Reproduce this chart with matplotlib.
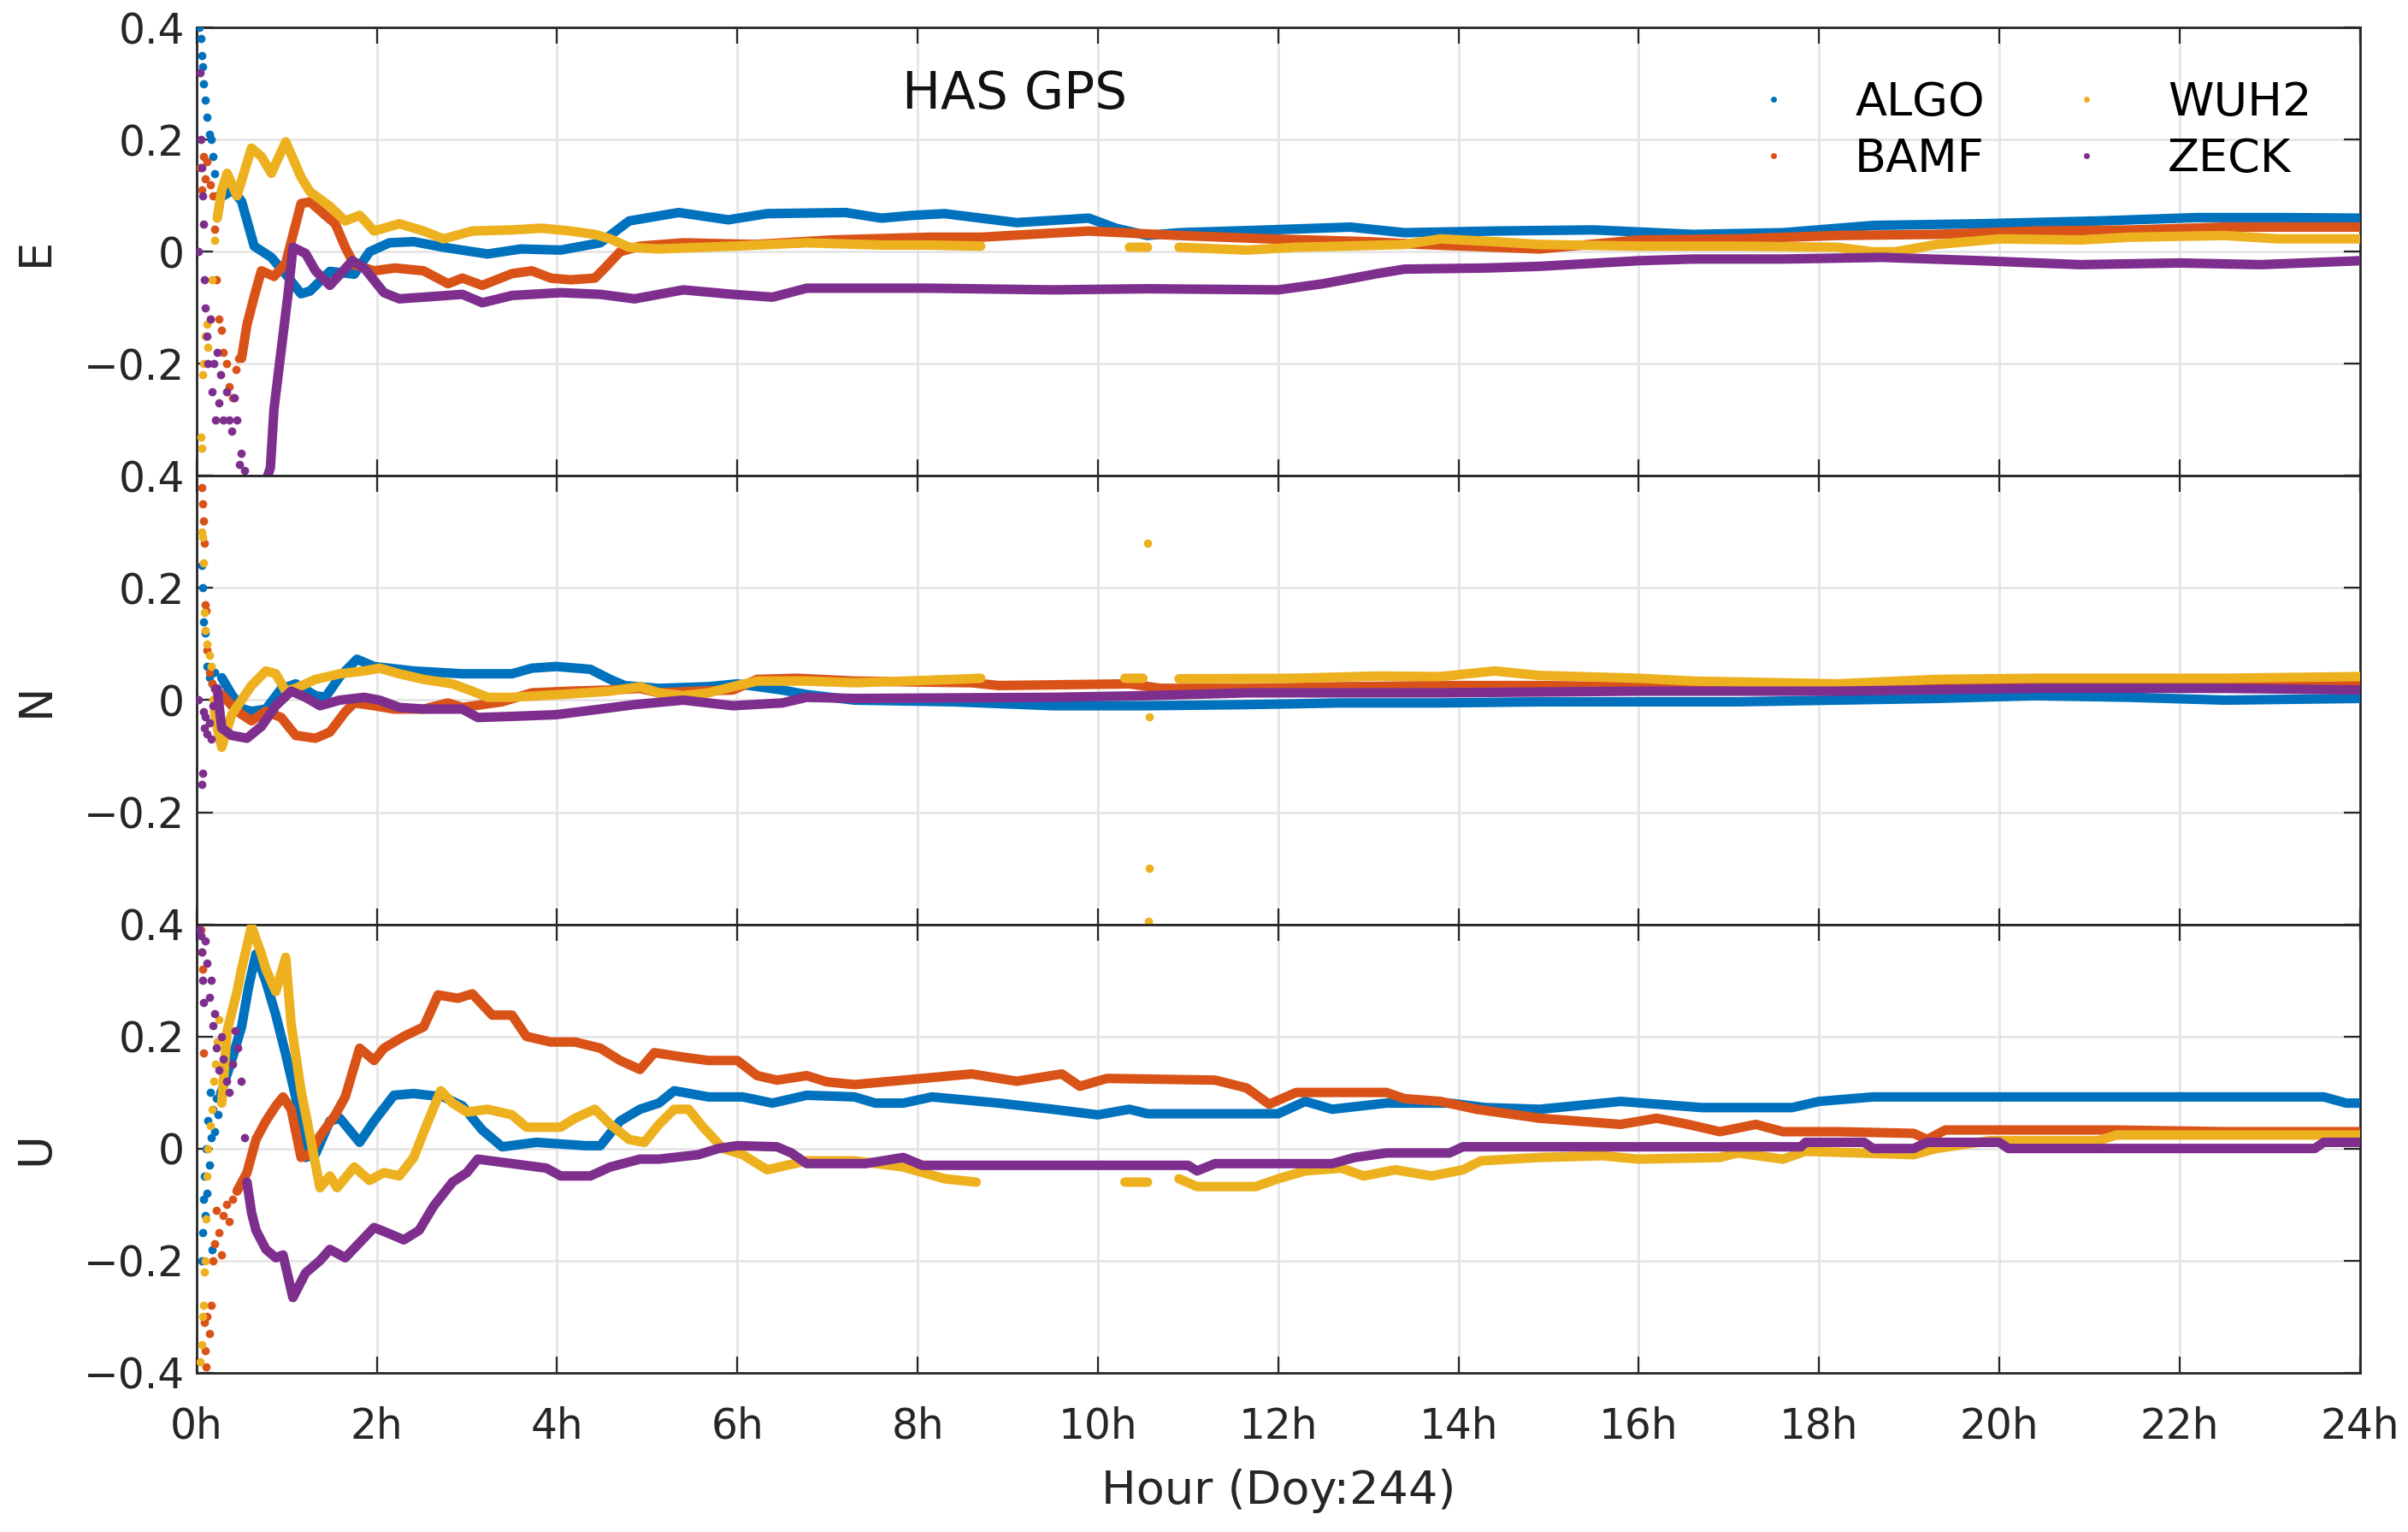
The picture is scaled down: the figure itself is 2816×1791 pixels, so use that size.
import numpy as np
import matplotlib
matplotlib.use('Agg')
import matplotlib.pyplot as plt
from matplotlib.ticker import FixedLocator, FixedFormatter

nan = np.nan

STATIONS = ['ALGO', 'BAMF', 'WUH2', 'ZECK']
COLORS = ['#0072BD', '#D95319', '#EDB120', '#7E2F8E']

# ---------------- East ----------------
E_ALGO_SCAT_T = [0.03, 0.05, 0.06, 0.07, 0.08, 0.10, 0.12, 0.14, 0.16, 0.18, 0.20, 0.22, 0.25]
E_ALGO_SCAT_V = [0.40, 0.38, 0.35, 0.33, 0.30, 0.27, 0.24, 0.21, 0.20, 0.17, 0.14, 0.10, 0.08]
E_ALGO_T = [0.3, 0.4, 0.5, 0.64, 0.83, 0.99, 1.16, 1.26, 1.48, 1.75, 1.92, 2.14, 2.41, 2.74, 3.23,
            3.6, 4.04, 4.48, 4.8, 5.35, 5.9, 6.33, 7.2, 7.6, 7.95, 8.3, 9.1, 9.9, 10.2, 10.55, 10.9,
            11.9, 12.8, 13.4, 14.4, 15.5, 16.6, 17.6, 18.6, 19.8, 21.1, 22.2, 23.1, 24]
E_ALGO_V = [0.10, 0.11, 0.09, 0.01, -0.01, -0.04, -0.075, -0.07, -0.035, -0.04, 0.0, 0.016, 0.018,
            0.008, -0.004, 0.005, 0.003, 0.016, 0.055, 0.07, 0.057, 0.068, 0.07, 0.06, 0.065, 0.068,
            0.052, 0.06, 0.042, 0.029, 0.034, 0.039, 0.044, 0.034, 0.037, 0.039, 0.031, 0.034, 0.047,
            0.05, 0.055, 0.061, 0.061, 0.06]

E_BAMF_SCAT_T = [0.04, 0.06, 0.08, 0.10, 0.12, 0.15, 0.18, 0.20, 0.22, 0.25, 0.28, 0.30, 0.33,
                 0.36, 0.40, 0.44, 0.47]
E_BAMF_SCAT_V = [0.15, 0.11, 0.17, 0.13, 0.16, 0.12, 0.10, 0.04, -0.05, -0.12, -0.14, -0.18, -0.20,
                 -0.24, -0.26, -0.21, -0.19]
E_BAMF_T = [0.5, 0.56, 0.64, 0.72, 0.86, 0.99, 1.16, 1.26, 1.43, 1.54, 1.65, 1.75, 1.97, 2.2, 2.52,
            2.79, 2.95, 3.17, 3.5, 3.72, 3.93, 4.15, 4.42, 4.53, 4.7, 4.92, 5.4, 6.2, 7.04, 8.13, 8.7,
            9.9, 10.9, 11.9, 13.0, 13.6, 14.4, 14.9, 16.0, 17.1, 18.2, 19.3, 20.4, 21.5, 22.5, 24]
E_BAMF_V = [-0.19, -0.13, -0.08, -0.034, -0.044, -0.02, 0.086, 0.089, 0.065, 0.05, 0.008, -0.023,
            -0.034, -0.029, -0.034, -0.057, -0.047, -0.06, -0.039, -0.034, -0.047, -0.05, -0.047,
            -0.029, 0.0, 0.01, 0.016, 0.013, 0.021, 0.026, 0.026, 0.037, 0.029, 0.023, 0.018, 0.013,
            0.008, 0.005, 0.021, 0.023, 0.029, 0.031, 0.037, 0.039, 0.044, 0.044]

E_WUH2_SCAT_T = [0.05, 0.06, 0.07, 0.08, 0.10, 0.12, 0.13, 0.15, 0.17, 0.20]
E_WUH2_SCAT_V = [-0.33, -0.35, -0.22, -0.20, -0.15, -0.13, -0.17, -0.12, -0.05, 0.02]
E_WUH2_T = [0.23, 0.28, 0.34, 0.45, 0.61, 0.72, 0.83, 0.99, 1.16, 1.26, 1.48, 1.65, 1.81, 1.97, 2.25,
            2.52, 2.74, 3.06, 3.5, 3.83, 4.15, 4.42, 4.59, 4.8, 5.13, 5.95, 6.77, 7.59, 8.13, 8.7,
            nan, 10.35, 10.55, nan, 10.9, 11.65, 12.2, 12.7, 13.4, 13.8, 14.4, 14.9, 16.0, 17.1,
            18.2, 18.6, 18.85, 19.3, 20.0, 20.9, 21.45, 22.5, 23.1, 24]
E_WUH2_V = [0.06, 0.11, 0.14, 0.10, 0.185, 0.17, 0.14, 0.196, 0.133, 0.107, 0.081, 0.055, 0.065,
            0.037, 0.05, 0.037, 0.023, 0.037, 0.039, 0.042, 0.037, 0.031, 0.023, 0.008, 0.005, 0.01,
            0.016, 0.012, 0.012, 0.01, nan, 0.008, 0.008, nan, 0.008, 0.003, 0.008, 0.01, 0.013,
            0.023, 0.018, 0.013, 0.01, 0.01, 0.008, 0.0, 0.0, 0.013, 0.023, 0.021, 0.026, 0.029,
            0.023, 0.023]

E_ZECK_SCAT_T = [0.02, 0.04, 0.05, 0.06, 0.07, 0.08, 0.09, 0.10, 0.12, 0.13, 0.15, 0.17, 0.19, 0.21,
                 0.23, 0.25, 0.27, 0.30, 0.33, 0.36, 0.39, 0.42, 0.45, 0.48, 0.50, 0.53]
E_ZECK_SCAT_V = [0.0, 0.32, 0.20, 0.15, 0.10, 0.05, -0.05, -0.10, -0.15, -0.20, -0.12, -0.25, -0.20,
                 -0.30, -0.18, -0.27, -0.22, -0.30, -0.25, -0.30, -0.32, -0.26, -0.30, -0.38, -0.36,
                 -0.39]
E_ZECK_T = [0.77, 0.82, 0.86, 0.94, 1.02, 1.07, 1.21, 1.32, 1.48, 1.73, 1.86, 2.08, 2.25, 2.52, 2.95,
            3.17, 3.5, 4.04, 4.48, 4.86, 5.4, 5.95, 6.39, 6.77, 7.59, 8.13, 9.5, 10.55, 12.0, 12.5,
            13.1, 13.4, 14.3, 14.9, 16.0, 16.6, 17.6, 18.7, 19.8, 20.9, 22.0, 22.9, 24]
E_ZECK_V = [-0.41, -0.385, -0.28, -0.175, -0.07, 0.008, -0.003, -0.034, -0.06, -0.016, -0.029,
            -0.073, -0.084, -0.081, -0.076, -0.091, -0.078, -0.073, -0.076, -0.084, -0.068, -0.076,
            -0.081, -0.065, -0.065, -0.065, -0.068, -0.066, -0.068, -0.057, -0.039, -0.031, -0.029,
            -0.026, -0.016, -0.013, -0.013, -0.01, -0.016, -0.023, -0.02, -0.023, -0.016]

# ---------------- North ----------------
N_ALGO_SCAT_T = [0.06, 0.07, 0.08, 0.10, 0.12, 0.14, 0.17, 0.20]
N_ALGO_SCAT_V = [0.24, 0.20, 0.14, 0.12, 0.06, 0.04, 0.03, 0.05]
N_ALGO_T = [0.28, 0.39, 0.5, 0.61, 0.77, 0.94, 1.1, 1.32, 1.43, 1.59, 1.78, 1.97, 2.41, 2.95, 3.5,
            3.72, 3.99, 4.37, 4.59, 4.75, 5.13, 5.68, 6.0, 6.5, 6.77, 7.3, 8.4, 9.5, 10.55, 11.65,
            12.7, 13.8, 14.9, 16.0, 17.1, 18.2, 19.3, 20.4, 21.45, 22.5, 24]
N_ALGO_V = [0.04, 0.01, -0.015, -0.02, -0.016, 0.02, 0.029, 0.008, 0.005, 0.042, 0.073, 0.06, 0.052,
            0.047, 0.047, 0.057, 0.06, 0.055, 0.037, 0.026, 0.021, 0.024, 0.029, 0.018, 0.01, 0.0,
            -0.003, -0.01, -0.01, -0.008, -0.005, -0.005, -0.003, -0.003, -0.003, 0.0, 0.003, 0.008,
            0.005, 0.0, 0.003]

N_BAMF_SCAT_T = [0.06, 0.07, 0.08, 0.09, 0.10, 0.11, 0.12, 0.14, 0.17, 0.20]
N_BAMF_SCAT_V = [0.38, 0.35, 0.32, 0.28, 0.17, 0.16, 0.09, 0.05, 0.03, 0.02]
N_BAMF_T = [0.28, 0.45, 0.61, 0.77, 0.94, 1.1, 1.32, 1.48, 1.65, 1.75, 1.97, 2.19, 2.52, 2.79, 2.95,
            3.39, 3.72, 4.15, 4.59, 4.92, 5.13, 5.57, 5.95, 6.22, 6.66, 7.3, 8.6, 8.9, 10.35, 10.7,
            11.65, 12.7, 13.8, 14.9, 16.0, 18.2, 19.3, 20.4, 21.45, 22.5, 24]
N_BAMF_V = [0.01, -0.02, -0.037, -0.02, -0.031, -0.063, -0.068, -0.057, -0.021, -0.005, -0.01,
            -0.016, -0.016, -0.005, -0.013, -0.003, 0.013, 0.016, 0.018, 0.021, 0.013, 0.016, 0.018,
            0.037, 0.039, 0.034, 0.031, 0.026, 0.029, 0.021, 0.021, 0.024, 0.026, 0.026, 0.024,
            0.018, 0.021, 0.026, 0.029, 0.029, 0.029]

N_WUH2_SCAT_T = [0.06, 0.07, 0.08, 0.09, 0.10, 0.12, 0.14, 0.16, 0.18, 10.55, 10.57, 10.57, 10.56]
N_WUH2_SCAT_V = [0.30, 0.29, 0.245, 0.157, 0.125, 0.10, 0.08, 0.06, 0.0, 0.28, -0.03, -0.30, -0.395]
N_WUH2_T = [0.2, 0.23, 0.28, 0.39, 0.5, 0.61, 0.77, 0.88, 0.99, 1.1, 1.32, 1.59, 1.86, 2.03, 2.25,
            2.52, 2.84, 3.06, 3.23, 3.5, 4.04, 4.59, 4.92, 5.13, 5.4, 5.68, 6.0, 6.22, 6.77, 7.3,
            8.4, 8.7, nan, 10.3, 10.5, nan, 10.9, 12.2, 13.1, 13.8, 14.4, 14.9, 16.0, 16.6, 18.2,
            19.3, 20.4, 21.45, 22.5, 24]
N_WUH2_V = [-0.02, -0.05, -0.084, -0.026, 0.0, 0.026, 0.052, 0.047, 0.016, 0.021, 0.037, 0.047,
            0.052, 0.057, 0.047, 0.037, 0.029, 0.016, 0.005, 0.005, 0.01, 0.016, 0.024, 0.013, 0.008,
            0.013, 0.026, 0.034, 0.034, 0.031, 0.037, 0.039, nan, 0.039, 0.039, nan, 0.038, 0.039,
            0.043, 0.042, 0.052, 0.044, 0.039, 0.034, 0.029, 0.037, 0.039, 0.039, 0.039, 0.042]

N_ZECK_SCAT_T = [0.02, 0.06, 0.07, 0.08, 0.09, 0.10, 0.12, 0.14, 0.16, 0.18, 0.20]
N_ZECK_SCAT_V = [0.0, -0.15, -0.13, -0.02, -0.05, -0.03, -0.06, -0.04, -0.07, -0.01, 0.02]
N_ZECK_T = [0.23, 0.28, 0.39, 0.56, 0.72, 0.88, 1.05, 1.21, 1.37, 1.59, 1.86, 2.03, 2.25, 2.52, 2.95,
            3.12, 3.5, 3.99, 4.48, 4.86, 5.4, 5.95, 6.5, 6.77, 7.3, 9.5, 10.55, 11.65, 13.8, 16.0,
            18.2, 20.4, 22.5, 24]
N_ZECK_V = [0.02, -0.05, -0.063, -0.068, -0.047, -0.01, 0.016, 0.005, -0.01, 0.0, 0.005, 0.0,
            -0.013, -0.016, -0.016, -0.031, -0.029, -0.026, -0.016, -0.008, 0.0, -0.01, -0.005,
            0.005, 0.003, 0.005, 0.008, 0.013, 0.013, 0.016, 0.016, 0.021, 0.021, 0.018]

# ---------------- Up ----------------
U_ALGO_SCAT_T = [0.06, 0.07, 0.08, 0.09, 0.10, 0.11, 0.12, 0.13, 0.14, 0.15, 0.16, 0.17, 0.18, 0.20,
                 0.22, 0.24, 0.26]
U_ALGO_SCAT_V = [-0.20, -0.15, -0.09, -0.05, -0.12, 0.0, -0.08, 0.05, -0.03, 0.10, 0.02, -0.18, 0.07,
                 0.03, 0.09, 0.06, 0.10]
U_ALGO_T = [0.28, 0.39, 0.5, 0.58, 0.66, 0.77, 0.88, 0.99, 1.1, 1.21, 1.32, 1.48, 1.59, 1.81, 1.97,
            2.19, 2.41, 2.74, 2.95, 3.17, 3.39, 3.77, 4.32, 4.48, 4.7, 4.92, 5.13, 5.3, 5.68, 6.06,
            6.39, 6.77, 7.3, 7.53, 7.84, 8.16, 8.9, 9.5, 10.0, 10.35, 10.55, 12.0, 12.3, 12.6, 13.2,
            13.9, 14.3, 14.9, 15.8, 16.7, 17.7, 18.0, 18.6, 20.4, 22.5, 23.6, 23.85, 24]
U_ALGO_V = [0.103, 0.157, 0.217, 0.29, 0.347, 0.298, 0.238, 0.168, 0.092, -0.016, -0.01, 0.049,
            0.054, 0.011, 0.049, 0.095, 0.098, 0.092, 0.076, 0.033, 0.003, 0.011, 0.005, 0.005, 0.049,
            0.07, 0.081, 0.103, 0.092, 0.092, 0.081, 0.095, 0.092, 0.081, 0.081, 0.092, 0.081, 0.07,
            0.06, 0.07, 0.062, 0.062, 0.084, 0.07, 0.081, 0.081, 0.073, 0.07, 0.084, 0.073, 0.073,
            0.084, 0.092, 0.092, 0.092, 0.092, 0.081, 0.081]

U_BAMF_SCAT_T = [0.05, 0.06, 0.07, 0.08, 0.09, 0.10, 0.11, 0.12, 0.14, 0.16, 0.18, 0.20, 0.22, 0.25,
                 0.28, 0.30, 0.33, 0.36, 0.40]
U_BAMF_SCAT_V = [0.39, 0.35, 0.32, 0.17, -0.31, -0.36, -0.39, -0.30, -0.33, -0.28, -0.20, -0.17,
                 -0.11, -0.15, -0.19, -0.12, -0.10, -0.13, -0.09]
U_BAMF_T = [0.45, 0.56, 0.66, 0.77, 0.88, 0.96, 1.05, 1.16, 1.26, 1.37, 1.54, 1.65, 1.81, 1.97, 2.08,
            2.3, 2.52, 2.68, 2.9, 3.06, 3.28, 3.5, 3.66, 3.93, 4.2, 4.48, 4.7, 4.92, 5.08, 5.4, 5.68,
            6.0, 6.22, 6.44, 6.77, 6.99, 7.3, 8.05, 8.6, 9.1, 9.6, 9.8, 10.1, 11.3, 11.65, 11.9,
            12.2, 13.2, 13.4, 13.8, 14.2, 14.9, 15.8, 16.2, 16.55, 16.9, 17.3, 17.6, 18.2, 19.05,
            19.2, 19.4, 21.3, 22.5, 24]
U_BAMF_V = [-0.076, -0.043, 0.016, 0.049, 0.076, 0.092, 0.07, -0.016, -0.01, 0.022, 0.06, 0.092,
            0.179, 0.157, 0.179, 0.2, 0.217, 0.274, 0.268, 0.276, 0.238, 0.238, 0.2, 0.19, 0.19,
            0.179, 0.157, 0.141, 0.171, 0.163, 0.157, 0.157, 0.13, 0.122, 0.13, 0.119, 0.114, 0.125,
            0.133, 0.12, 0.133, 0.111, 0.125, 0.122, 0.108, 0.079, 0.1, 0.1, 0.089, 0.084, 0.07,
            0.054, 0.043, 0.054, 0.043, 0.03, 0.043, 0.03, 0.03, 0.027, 0.016, 0.033, 0.033, 0.03,
            0.03]

U_WUH2_SCAT_T = [0.04, 0.06, 0.07, 0.08, 0.09, 0.10, 0.11, 0.12, 0.13, 0.15, 0.17, 0.19, 0.21, 0.23,
                 0.25]
U_WUH2_SCAT_V = [-0.38, -0.35, -0.30, -0.28, -0.22, -0.20, -0.125, -0.05, 0.0, 0.04, 0.07, 0.12,
                 0.15, 0.19, 0.23]
U_WUH2_T = [0.28, 0.34, 0.45, 0.5, 0.61, 0.72, 0.77, 0.88, 0.99, 1.05, 1.16, 1.26, 1.37, 1.48, 1.56,
            1.75, 1.92, 2.08, 2.25, 2.41, 2.57, 2.71, 2.84, 3.0, 3.23, 3.5, 3.66, 4.04, 4.2, 4.42,
            4.59, 4.8, 4.97, 5.13, 5.3, 5.46, 5.62, 5.84, 6.06, 6.33, 6.77, 7.3, 7.84, 8.3, 8.65,
            nan, 10.3, 10.55, nan, 10.9, 11.1, 11.75, 12.0, 12.3, 12.7, 12.95, 13.3, 13.7, 14.05,
            14.25, 14.9, 15.6, 16.0, 16.9, 17.1, 17.6, 17.85, 19.05, 19.3, 19.9, 21.1, 21.3, 24]
U_WUH2_V = [0.081, 0.21, 0.28, 0.32, 0.396, 0.347, 0.32, 0.28, 0.341, 0.222, 0.103, 0.022, -0.07,
            -0.049, -0.07, -0.033, -0.057, -0.043, -0.049, -0.016, 0.049, 0.103, 0.081, 0.065, 0.07,
            0.06, 0.038, 0.038, 0.054, 0.07, 0.043, 0.016, 0.011, 0.043, 0.07, 0.07, 0.038, 0.0,
            -0.011, -0.038, -0.022, -0.022, -0.033, -0.054, -0.06, nan, -0.06, -0.06, nan, -0.054,
            -0.068, -0.068, -0.054, -0.04, -0.035, -0.049, -0.038, -0.049, -0.038, -0.022, -0.016,
            -0.013, -0.019, -0.016, -0.008, -0.019, -0.005, -0.011, 0.0, 0.014, 0.014, 0.024, 0.024]

U_ZECK_SCAT_T = [0.03, 0.05, 0.06, 0.07, 0.08, 0.10, 0.12, 0.14, 0.16, 0.18, 0.20, 0.22, 0.25, 0.28,
                 0.30, 0.33, 0.36, 0.40, 0.43, 0.46, 0.50, 0.53]
U_ZECK_SCAT_V = [0.39, 0.38, 0.35, 0.30, 0.26, 0.37, 0.33, 0.27, 0.30, 0.22, 0.24, 0.18, 0.14, 0.20,
                 0.16, 0.12, 0.10, 0.15, 0.21, 0.18, 0.12, 0.02]
U_ZECK_T = [0.56, 0.61, 0.66, 0.77, 0.88, 0.96, 1.07, 1.21, 1.37, 1.48, 1.65, 1.81, 1.97, 2.14, 2.3,
            2.47, 2.63, 2.84, 3.0, 3.12, 3.5, 3.88, 4.04, 4.37, 4.59, 4.92, 5.13, 5.57, 5.79, 6.0,
            6.44, 6.6, 6.77, 7.42, 7.84, 8.05, 11.0, 11.1, 11.3, 12.6, 12.85, 13.2, 13.9, 14.05,
            17.8, 17.85, 18.5, 18.6, 19.05, 19.2, 20.0, 20.1, 23.5, 23.6, 24]
U_ZECK_V = [-0.06, -0.114, -0.146, -0.18, -0.195, -0.19, -0.266, -0.222, -0.2, -0.18, -0.195, -0.168,
            -0.141, -0.152, -0.163, -0.146, -0.103, -0.06, -0.043, -0.019, -0.027, -0.035, -0.049,
            -0.049, -0.033, -0.019, -0.019, -0.011, 0.0, 0.005, 0.003, -0.008, -0.027, -0.027,
            -0.016, -0.03, -0.03, -0.04, -0.027, -0.027, -0.016, -0.008, -0.008, 0.003, 0.003,
            0.011, 0.011, 0.0, 0.0, 0.011, 0.011, 0.0, 0.0, 0.011, 0.011]

XTICKS = list(range(0, 25, 2))
XTICK_LABELS = [f'{h}h' for h in XTICKS]
YTICKS = [-0.4, -0.2, 0, 0.2, 0.4]
YTICK_LABELS = ['\u22120.4', '\u22120.2', '0', '0.2', '0.4']

panels = [
    ('E', [(E_ALGO_T, E_ALGO_V, E_ALGO_SCAT_T, E_ALGO_SCAT_V),
           (E_BAMF_T, E_BAMF_V, E_BAMF_SCAT_T, E_BAMF_SCAT_V),
           (E_WUH2_T, E_WUH2_V, E_WUH2_SCAT_T, E_WUH2_SCAT_V),
           (E_ZECK_T, E_ZECK_V, E_ZECK_SCAT_T, E_ZECK_SCAT_V)]),
    ('N', [(N_ALGO_T, N_ALGO_V, N_ALGO_SCAT_T, N_ALGO_SCAT_V),
           (N_BAMF_T, N_BAMF_V, N_BAMF_SCAT_T, N_BAMF_SCAT_V),
           (N_WUH2_T, N_WUH2_V, N_WUH2_SCAT_T, N_WUH2_SCAT_V),
           (N_ZECK_T, N_ZECK_V, N_ZECK_SCAT_T, N_ZECK_SCAT_V)]),
    ('U', [(U_ALGO_T, U_ALGO_V, U_ALGO_SCAT_T, U_ALGO_SCAT_V),
           (U_BAMF_T, U_BAMF_V, U_BAMF_SCAT_T, U_BAMF_SCAT_V),
           (U_WUH2_T, U_WUH2_V, U_WUH2_SCAT_T, U_WUH2_SCAT_V),
           (U_ZECK_T, U_ZECK_V, U_ZECK_SCAT_T, U_ZECK_SCAT_V)]),
]

plt.rcParams['font.family'] = ['DejaVu Sans']

fig = plt.figure(figsize=(14.08, 8.955), dpi=200)
left, right, top, bottom = 0.0816, 0.980, 0.982, 0.104
h = (top - bottom) / 3

axes = []
for i, (comp, series) in enumerate(panels):
    ax = fig.add_axes([left, top - (i + 1) * h, right - left, h])
    axes.append(ax)
    for (t, v, st, sv), name, col in zip(series, STATIONS, COLORS):
        ax.plot(t, v, '-', color=col, lw=4.0, solid_capstyle='round', zorder=3)
        ax.plot(st, sv, '.', color=col, ms=5, zorder=3)
        if i == 0:
            ax.plot([], [], '.', color=col, ms=3, label=name)
    ax.set_xlim(0, 24)
    ax.set_ylim(-0.4, 0.4)
    ax.xaxis.set_major_locator(FixedLocator(XTICKS))
    ax.yaxis.set_major_locator(FixedLocator(YTICKS))
    if i < 2:
        ax.yaxis.set_major_formatter(FixedFormatter([''] + YTICK_LABELS[1:]))
        ax.tick_params(labelbottom=False)
    else:
        ax.yaxis.set_major_formatter(FixedFormatter(YTICK_LABELS))
        ax.set_xticklabels(XTICK_LABELS)
    ax.grid(True, color='#e3e3e3', lw=0.9, zorder=0)
    ax.set_axisbelow(True)
    ax.tick_params(direction='in', top=True, right=True, length=7, width=0.8,
                   labelsize=17.5, colors='#262626')
    ax.tick_params(axis='x', pad=14)
    ax.tick_params(axis='y', pad=5)
    for sp in ax.spines.values():
        sp.set_color('#262626')
        sp.set_linewidth(1.0)
    ax.set_ylabel(comp, fontsize=19, color='#262626')
    ax.yaxis.set_label_coords(-0.064, 0.5)

axes[0].text(0.378, 0.85, 'HAS GPS', transform=axes[0].transAxes, ha='center', va='center',
             fontsize=21.5, color='#111111')
axes[0].legend(loc='upper right', bbox_to_anchor=(0.997, 0.975), ncol=2, frameon=False,
               fontsize=19.5, handlelength=1.6, handletextpad=0.95, columnspacing=1.4,
               labelspacing=0.25, markerscale=1.0)
axes[2].set_xlabel('Hour (Doy:244)', fontsize=19.5, color='#262626', labelpad=9)

fig.savefig('out.png', dpi=200)
